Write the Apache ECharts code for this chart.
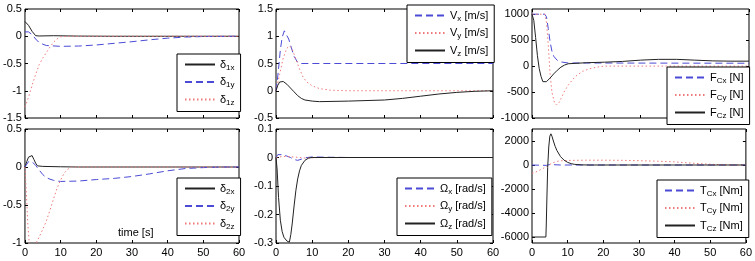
<!DOCTYPE html>
<html>
<head>
<meta charset="utf-8">
<script src="https://cdn.jsdelivr.net/npm/echarts@6/dist/echarts.min.js"></script>
<style>
  html, body { margin: 0; padding: 0; background: #fff; }
  #main { width: 755px; height: 261px; }
</style>
</head>
<body>
<div id="main"></div>
<script>
// 初始化
var chart = echarts.init(document.getElementById('main'));
var FONT = 'Liberation Sans';

// time ticks
var timeTicks = [0, 10, 20, 30, 40, 50, 60];

// panel 1: delta_1
var d1x = [[0,0.27],[1,0.2],[2,0.09],[3,0.01],[4,0.005],[8,0.01],[15,0.003],[25,0],[60,0]];
var d1y = [[0,0.08],[1,0.08],[2,0.03],[3,-0.05],[4,-0.12],[6,-0.17],[10,-0.185],[15,-0.18],[20,-0.16],[25,-0.13],[30,-0.1],[35,-0.065],[40,-0.035],[45,-0.015],[50,-0.005],[60,0]];
var d1z = [[0,-1.3],[1,-1.12],[2,-0.9],[3,-0.7],[4,-0.52],[5,-0.4],[6,-0.3],[7,-0.2],[8,-0.11],[9,-0.05],[10,-0.01],[12,0],[60,0]];

// panel 2: V
var vx = [[0,0],[0.3,0.15],[0.7,0.4],[1.2,0.75],[1.7,0.98],[2.3,1.1],[2.8,1.08],[3.5,0.95],[4.2,0.8],[5,0.63],[6,0.52],[7,0.5],[60,0.5]];
var vy = [[0,0],[1,0.3],[2,0.6],[3,0.78],[3.8,0.82],[4.5,0.76],[5.5,0.58],[6.5,0.4],[7.5,0.25],[8.5,0.16],[10,0.09],[12,0.04],[15,0.01],[20,0],[60,0]];
var vz = [[0,0],[0.5,0.1],[1,0.16],[1.5,0.18],[2,0.17],[3,0.12],[4,0.05],[5,-0.02],[6,-0.09],[7,-0.14],[8,-0.17],[10,-0.19],[12,-0.2],[20,-0.19],[30,-0.17],[35,-0.14],[40,-0.1],[45,-0.06],[50,-0.03],[55,-0.01],[60,0]];

// panel 3: F_C
var fcx = [[0,1000],[3.5,1000],[4,950],[4.5,720],[5,470],[5.5,290],[6,190],[7,110],[8,80],[10,60],[60,55]];
var fcy = [[0,1000],[3.5,1000],[4,850],[4.5,400],[5,-150],[5.5,-500],[6.2,-700],[6.8,-750],[7.5,-700],[8,-630],[9,-480],[10,-370],[11,-280],[12,-200],[14,-100],[16,-50],[18,-20],[20,0],[60,0]];
var fcz = [[0,1000],[0.5,880],[1,550],[1.5,200],[2,-50],[2.5,-200],[3,-300],[3.5,-320],[4,-300],[5,-230],[6,-150],[7,-80],[8,-20],[9,20],[10,45],[15,65],[20,75],[25,90],[30,115],[35,130],[40,130],[45,115],[50,100],[55,95],[60,95]];

// panel 4: delta_2
var d2x = [[0,0],[0.5,0.07],[1,0.13],[1.5,0.155],[2,0.15],[2.5,0.1],[3,0.05],[3.5,0.015],[5,0.008],[10,0.003],[15,0],[60,0]];
var d2y = [[0,0],[1,0.07],[1.5,0.09],[2,0.07],[3,0.02],[4,-0.04],[5,-0.1],[6,-0.14],[7,-0.16],[8,-0.175],[9,-0.185],[10,-0.19],[15,-0.185],[20,-0.165],[25,-0.15],[30,-0.125],[35,-0.09],[40,-0.05],[45,-0.02],[50,-0.008],[55,0],[60,0]];
var d2z = [[0,0],[0.4,-0.35],[0.8,-0.75],[1.2,-1.0],[1.6,-1.15],[2.2,-1.2],[2.7,-1.1],[3.1,-1.0],[4,-0.92],[5,-0.82],[6,-0.71],[7,-0.57],[8,-0.42],[9,-0.28],[10,-0.17],[11,-0.08],[12,-0.03],[13,0],[60,0]];

// panel 5: Omega
var wx = [[0,0],[0.5,0.01],[1,0.014],[2,0.01],[3,0.005],[4,0],[5,-0.007],[6,-0.01],[7,-0.006],[8,-0.001],[10,0.002],[14,0.001],[20,0],[60,0]];
var wy = [[0,0],[2,0.004],[5,0.002],[8,-0.002],[12,0],[60,0]];
var wz = [[0,0],[0.3,-0.04],[0.7,-0.14],[1.2,-0.22],[1.7,-0.26],[2.2,-0.28],[3,-0.293],[3.7,-0.297],[4.1,-0.27],[4.5,-0.23],[5,-0.17],[5.5,-0.115],[6,-0.075],[6.5,-0.047],[7,-0.028],[8,-0.01],[9,-0.002],[10,0],[60,0]];

// panel 6: T_C
var tcx = [[0,0],[4,-30],[5,40],[8,0],[60,0]];
var tcy = [[0,-700],[1,-600],[2,-450],[3,-300],[4,-150],[5,50],[6,200],[7,300],[8,350],[10,380],[15,400],[20,400],[25,390],[30,360],[35,320],[40,260],[45,150],[50,60],[55,10],[60,0]];
var tcz = [[0,-6000],[3.9,-6000],[4.0,-5000],[4.2,-2500],[4.4,-200],[4.7,1500],[5,2400],[5.3,2600],[5.6,2400],[6,2000],[6.5,1550],[7,1200],[8,700],[9,400],[10,220],[11,110],[12,50],[14,10],[16,0],[60,0]];

// y tick labels
var yTicks1 = [-1.5, -1, -0.5, 0, 0.5];
var yTicks2 = [-0.5, 0, 0.5, 1, 1.5];
var yTicks3 = [-1000, -500, 0, 500, 1000];
var yTicks4 = [-1, -0.5, 0, 0.5];
var yTicks5 = [-0.3, -0.2, -0.1, 0, 0.1];
var yTicks6 = [-6000, -4000, -2000, 0, 2000];

var SOLID = '#222222', DASH = '#4b4bd6', DOT = '#ee7a7a';

var panels = [
    {grid: [22, 9, 217, 109], ymin: -1.5, ymax: 0.5, ticks: yTicks1, xlab: false,
     series: [['δ_1x', d1x, 'solid'], ['δ_1y', d1y, 'dash'], ['δ_1z', d1z, 'dot']],
     legend: [177, 54]},
    {grid: [276, 9, 217, 109], ymin: -0.5, ymax: 1.5, ticks: yTicks2, xlab: false,
     series: [['V_x [m/s]', vx, 'dash'], ['V_y [m/s]', vy, 'dot'], ['V_z [m/s]', vz, 'solid']],
     legend: [407, 5]},
    {grid: [532, 9, 217, 109], ymin: -1000, ymax: 1100, ticks: yTicks3, xlab: false,
     series: [['F_Cx [N]', fcx, 'dash'], ['F_Cy [N]', fcy, 'dot'], ['F_Cz [N]', fcz, 'solid']],
     legend: [667, 67]},
    {grid: [22, 129, 217, 114], ymin: -1, ymax: 0.5, ticks: yTicks4, xlab: true,
     series: [['δ_2x', d2x, 'solid'], ['δ_2y', d2y, 'dash'], ['δ_2z', d2z, 'dot']],
     legend: [177, 178]},
    {grid: [276, 129, 217, 114], ymin: -0.3, ymax: 0.1, ticks: yTicks5, xlab: true,
     series: [['Ω_x [rad/s]', wx, 'dash'], ['Ω_y [rad/s]', wy, 'dot'], ['Ω_z [rad/s]', wz, 'solid']],
     legend: [397, 178]},
    {grid: [532, 129, 217, 114], ymin: -6500, ymax: 3000, ticks: yTicks6, xlab: true,
     series: [['T_Cx [Nm]', tcx, 'dash'], ['T_Cy [Nm]', tcy, 'dot'], ['T_Cz [Nm]', tcz, 'solid']],
     legend: [657, 180]}
];

var styles = {
    solid: {color: SOLID, type: 'solid'},
    dash: {color: DASH, type: [7, 4]},
    dot: {color: DOT, type: [1.5, 2.5]}
};

function subFmt(name) {
    var m = name.match(/^([^_]+)_(\S+)(.*)$/);
    if (!m) return name;
    return '{n|' + m[1] + '}{s|' + m[2] + '}' + (m[3] ? '{n|' + m[3] + '}' : '');
}

function plainNum(v) { return String(v); }

var grid = [], xAxis = [], yAxis = [], series = [], legend = [];
panels.forEach(function (p, i) {
    grid.push({left: p.grid[0], top: p.grid[1], width: p.grid[2], height: p.grid[3],
        show: true, borderColor: '#000', borderWidth: 1, backgroundColor: 'transparent'});
    [false, true].forEach(function (mirror) {
        xAxis.push({
            type: 'value', gridIndex: i, min: 0, max: 60, interval: 10,
            position: mirror ? 'top' : 'bottom',
            axisLine: {show: false, onZero: false}, splitLine: {show: false},
            axisTick: {inside: true, length: 3, lineStyle: {color: '#000'}},
            axisLabel: {show: p.xlab && !mirror, color: '#000', fontFamily: FONT, fontSize: 11, margin: 4,
                customValues: timeTicks, formatter: plainNum}
        });
        yAxis.push({
            type: 'value', gridIndex: i, min: p.ymin, max: p.ymax,
            position: mirror ? 'right' : 'left',
            axisLine: {show: false, onZero: false}, splitLine: {show: false},
            axisTick: {inside: true, length: 3, lineStyle: {color: '#000'}, customValues: p.ticks},
            axisLabel: {show: !mirror, color: '#000', fontFamily: FONT, fontSize: 11, margin: 3,
                customValues: p.ticks, formatter: plainNum}
        });
    });
    p.series.forEach(function (s) {
        series.push({
            name: s[0], type: 'line', xAxisIndex: 2 * i, yAxisIndex: 2 * i,
            data: s[1], symbol: 'none', showSymbol: false, animation: false,
            lineStyle: {width: 1, color: styles[s[2]].color, type: styles[s[2]].type},
            itemStyle: {color: styles[s[2]].color}
        });
    });
    legend.push({
        data: p.series.map(function (s) { return s[0]; }),
        left: p.legend[0], top: p.legend[1], orient: 'vertical',
        backgroundColor: '#fff', borderColor: '#000', borderWidth: 1,
        padding: [5, 6, 5, 7], itemWidth: 30, itemHeight: 12, itemGap: 5,
        selectedMode: false, formatter: subFmt,
        itemStyle: {opacity: 0},
        textStyle: {color: '#000', fontFamily: FONT, fontSize: 11,
            rich: {
                n: {fontFamily: FONT, fontSize: 11, color: '#000'},
                s: {fontFamily: FONT, fontSize: 8, color: '#000', padding: [6, 0, 0, 0]}
            }}
    });
});

var option = {
    animation: false,
    grid: grid,
    xAxis: xAxis,
    yAxis: yAxis,
    legend: legend,
    series: series,
    graphic: [{
        type: 'text', left: 118, top: 227,
        style: {text: 'time [s]', fontFamily: FONT, fontSize: 11, fill: '#000'}
    }]
};
chart.setOption(option);
</script>
</body>
</html>
